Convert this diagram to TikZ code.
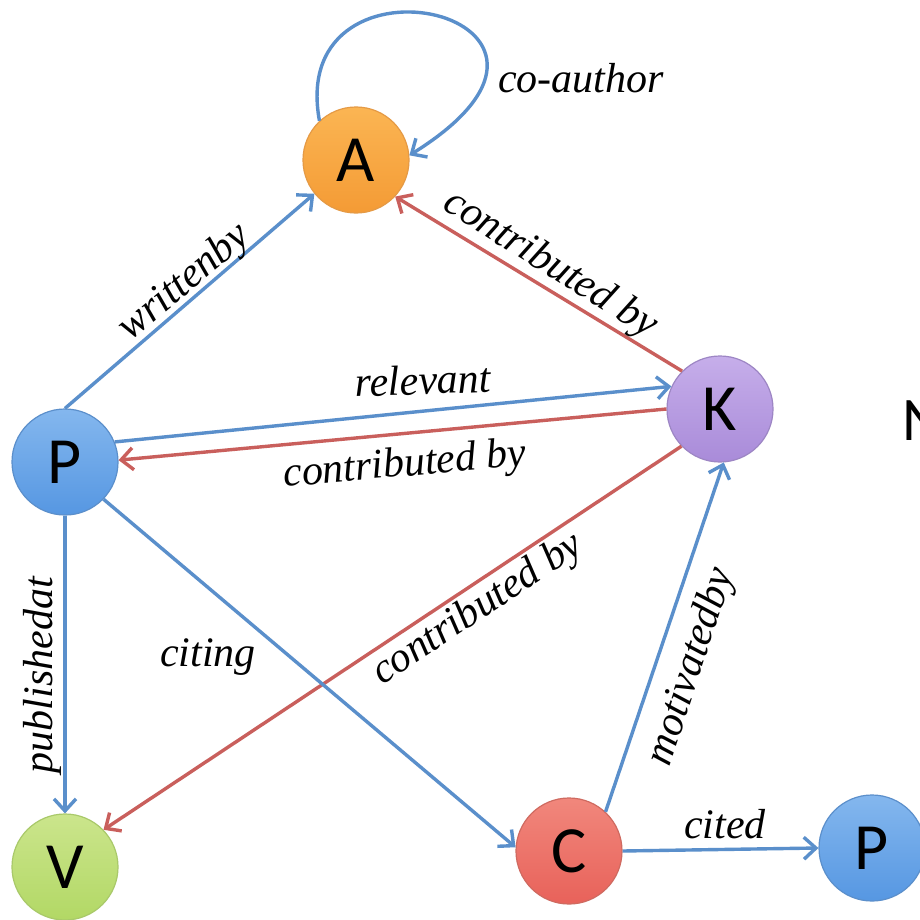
\documentclass[tikz,border=0pt]{standalone}
\usepackage{fontspec}
\setmainfont{Liberation Serif}
\newfontfamily\nodefont{Carlito}
\usetikzlibrary{arrows.meta}
\definecolor{eblue}{HTML}{5A8FCB}
\definecolor{ered}{HTML}{C95F5C}
\definecolor{aTop}{HTML}{FBB553}
\definecolor{aBot}{HTML}{F49B35}
\definecolor{aBrd}{HTML}{E59A45}
\definecolor{pTop}{HTML}{84B7EE}
\definecolor{pBot}{HTML}{5697E2}
\definecolor{pBrd}{HTML}{5B8FCB}
\definecolor{vTop}{HTML}{CBE58C}
\definecolor{vBot}{HTML}{B2D865}
\definecolor{vBrd}{HTML}{A9C96A}
\definecolor{cTop}{HTML}{F1877C}
\definecolor{cBot}{HTML}{E8625A}
\definecolor{cBrd}{HTML}{CF6A60}
\definecolor{kTop}{HTML}{C6AEEA}
\definecolor{kBot}{HTML}{A98BD9}
\definecolor{kBrd}{HTML}{9D86C4}
\tikzset{
  vtx/.style={circle, minimum size=53pt, inner sep=0pt, font=\nodefont\fontsize{33}{33}\selectfont, text=black, line width=0.6pt},
  vA/.style={vtx, draw=aBrd, top color=aTop, bottom color=aBot},
  vP/.style={vtx, draw=pBrd, top color=pTop, bottom color=pBot},
  vV/.style={vtx, draw=vBrd, top color=vTop, bottom color=vBot},
  vC/.style={vtx, draw=cBrd, top color=cTop, bottom color=cBot},
  vK/.style={vtx, draw=kBrd, top color=kTop, bottom color=kBot},
  barr/.style={draw=eblue, line width=1.7pt, -{Straight Barb[length=6pt,width=11pt,line width=1.7pt]}},
  rarr/.style={draw=ered, line width=1.7pt, -{Straight Barb[length=6pt,width=11pt,line width=1.7pt]}},
  lbl/.style={font=\itshape\fontsize{21}{21}\selectfont, inner sep=0pt}
}
\begin{document}
\begin{tikzpicture}[x=0.5pt,y=-0.5pt]
\useasboundingbox (0,0) rectangle (920,920);
\fill[white] (0,0) rectangle (920,920);
% nodes
\node[vA] (A) at (356,160) {A};
\node[vP] (P) at (65,462) {P};
\node[vK] (K) at (720,409) {K};
\node[vV] (V) at (65,867) {V};
\node[vC] (C) at (569,851) {C};
\node[vP] (P2) at (872,848) {P};
\node[anchor=base west, inner sep=0pt, font=\nodefont\fontsize{31}{31}\selectfont] (N) at (902,440) {N};
% edges
\draw[barr] (A.133) .. controls (285,-65) and (635,15) .. (A.5);
\draw[barr] (P.90) -- (A.219);
\draw[rarr] (K.135) -- (A.317);
\draw[barr] (P.22) -- (K.155);
\draw[rarr] (K.180) -- (P.2);
\draw[barr] (P.270) -- (V.90);
\draw[rarr] (K.224) -- (V.44);
\draw[barr] (P.316) -- (C.176);
\draw[barr] (C.47) -- (K.274);
\draw[barr] (C.0) -- (P2.180);
% labels
\node[lbl] (lco) at (581,78) {co-author};
\node[lbl, rotate=40] (lwr) at (185,283) {writtenby};
\node[lbl, rotate=-32] (lka) at (550,265) {contributed by};
\node[lbl, rotate=2] (lrel) at (423,380) {relevant};
\node[lbl, rotate=5] (lkp) at (405,466) {contributed by};
\node[lbl, rotate=33.6] (lkv) at (478,610) {contributed by};
\node[lbl, rotate=90] (lpub) at (42,675) {publishedat};
\node[lbl] (lcit) at (208,657) {citing};
\node[lbl, rotate=72] (lmot) at (692,667) {motivatedby};
\node[lbl] (lcd) at (725,824) {cited};
\end{tikzpicture}
\end{document}
